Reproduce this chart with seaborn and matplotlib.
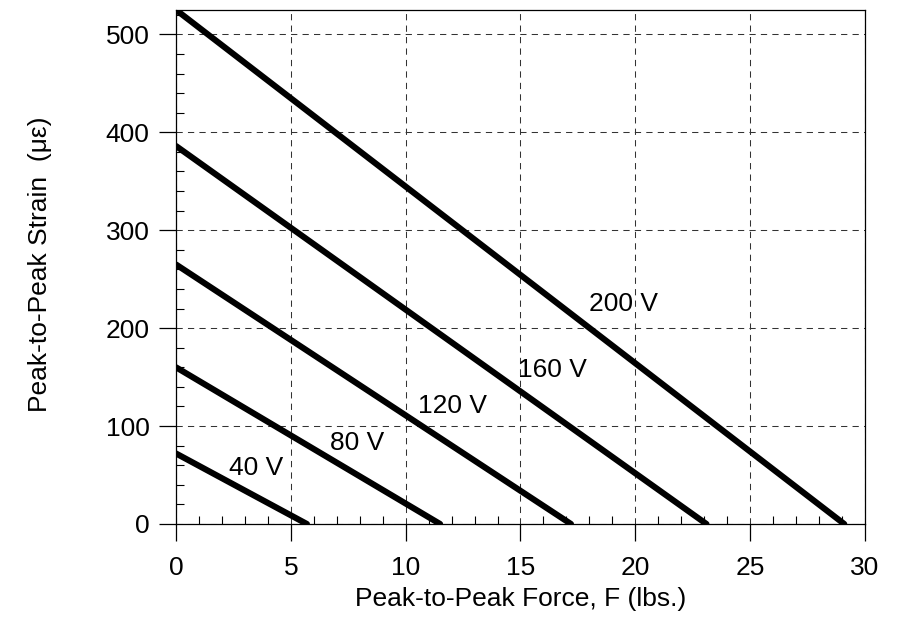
import matplotlib
matplotlib.use("Agg")
import matplotlib.pyplot as plt
from matplotlib.ticker import MultipleLocator
import numpy as np
import pandas as pd
import seaborn as sns

# Drive voltage for each load line
voltages = ["40 V", "80 V", "120 V", "160 V", "200 V"]
# Free strain at zero force (micro-strain)
free_strain = [72, 160, 265, 386, 525]
# Blocked force at zero strain (lbs.)
blocked_force = [5.7, 11.5, 17.2, 23.1, 29.1]

x_ticks = [0, 5, 10, 15, 20, 25, 30]
x_tick_labels = ["0", "5", "10", "15", "20", "25", "30"]
y_ticks = [0, 100, 200, 300, 400, 500]

# Long-form table: each load line runs from (0, free strain) to (blocked force, 0)
rows = []
for v, s0, f0 in zip(voltages, free_strain, blocked_force):
    rows.append({"voltage": v, "force": 0.0, "strain": s0})
    rows.append({"voltage": v, "force": f0, "strain": 0.0})
df = pd.DataFrame(rows)

sns.set_theme(style="white")
plt.rcParams["font.family"] = ["Liberation Sans", "DejaVu Sans"]

fig = plt.figure(figsize=(9.0, 6.19), dpi=100)
ax = fig.add_axes([0.1956, 0.1535, 0.7654, 0.8305])

sns.lineplot(data=df, x="force", y="strain", hue="voltage",
             palette=["black"] * len(voltages), linewidth=4.4,
             legend=False, ax=ax, solid_capstyle="round")

ax.set_xlim(0, 30)
ax.set_ylim(0, 525)

ax.set_xticks(x_ticks)
ax.set_xticklabels(x_tick_labels)
ax.set_yticks(y_ticks)
ax.xaxis.set_minor_locator(MultipleLocator(1))
ax.yaxis.set_minor_locator(MultipleLocator(20))

ax.tick_params(axis="both", which="major", direction="out", length=12,
               width=0.9, color="black", labelsize=19, labelcolor="black")
ax.tick_params(axis="x", which="major", pad=11)
ax.tick_params(axis="y", which="major", pad=7)
ax.tick_params(axis="both", which="minor", direction="in", length=5.5,
               width=0.8, color="black")
ax.tick_params(bottom=True, left=True, top=False, right=False,
               which="both")

for side in ["left", "bottom", "top", "right"]:
    ax.spines[side].set_visible(True)
    ax.spines[side].set_color("black")
    ax.spines[side].set_linewidth(0.9)

ax.grid(True, which="major", linestyle=(0, (6, 5)), color="#333333",
        linewidth=0.75)
ax.set_axisbelow(True)

# Voltage annotations beside each line
label_pos = [(3.5, 57), (7.9, 83), (12.05, 120), (16.4, 157), (19.5, 225)]
for v, (lx, ly) in zip(voltages, label_pos):
    ax.text(lx, ly, v, fontsize=19, ha="center", va="center", color="black")

ax.set_xlabel("Peak-to-Peak Force, F (lbs.)", fontsize=19, color="black")
ax.set_ylabel("Peak-to-Peak Strain  (\u03bc\u03b5)", fontsize=19,
              color="black")
ax.xaxis.set_label_coords(0.5, -0.146)
ax.yaxis.set_label_coords(-0.198, 0.506)
ax.xaxis.label.set_va("center")
ax.yaxis.label.set_va("center")

fig.savefig("out.png", dpi=100, facecolor="white")
